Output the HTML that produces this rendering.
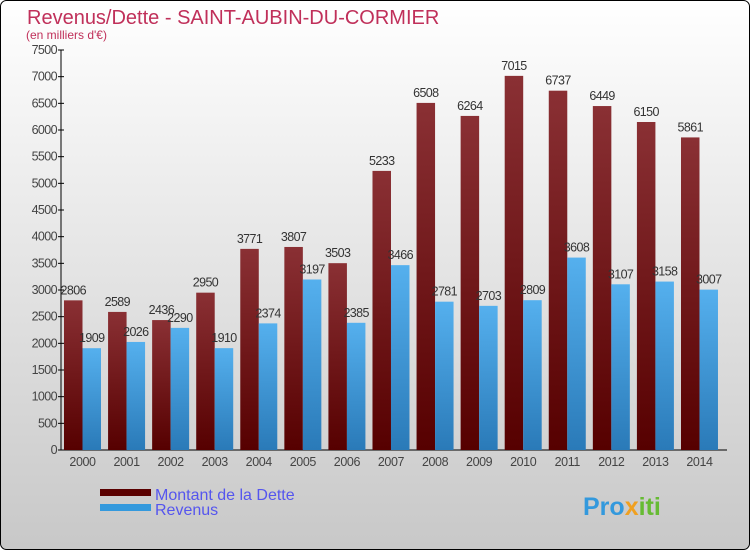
<!DOCTYPE html>
<html><head><meta charset="utf-8"><style>
html,body{margin:0;padding:0;}
body{width:750px;height:550px;overflow:hidden;font-family:"Liberation Sans","DejaVu Sans",sans-serif;}
</style></head><body>
<svg id="chart" width="750" height="550" xmlns="http://www.w3.org/2000/svg">
<defs>
<linearGradient id="bg" x1="0" y1="0" x2="0" y2="1"><stop offset="0" stop-color="#ffffff"/><stop offset="1" stop-color="#c8c8c8"/></linearGradient>
<linearGradient id="gd" x1="0" y1="0" x2="0" y2="1"><stop offset="0" stop-color="#8a3034"/><stop offset="1" stop-color="#560000"/></linearGradient>
<linearGradient id="gr" x1="0" y1="0" x2="0" y2="1"><stop offset="0" stop-color="#55b0ee"/><stop offset="1" stop-color="#2a7ab8"/></linearGradient>
</defs>
<rect x="0.5" y="0.5" width="749" height="549" rx="6" fill="url(#bg)" stroke="#000"/>
<text x="27" y="24" font-size="20" fill="#c0305a">Revenus/Dette - SAINT-AUBIN-DU-CORMIER</text>
<text x="26" y="39" font-size="12" fill="#c0305a">(en milliers d'€)</text>
<g id="axes"></g>
<g id="bars"></g>
<g>
<rect x="100" y="489" width="51" height="7" fill="#5a0000"/>
<text x="155" y="500" font-size="16" fill="#5555ee">Montant de la Dette</text>
<rect x="100" y="504" width="51" height="7" fill="#3399dd"/>
<text x="155" y="515" font-size="16" fill="#5555ee">Revenus</text>
</g>
<text x="583" y="515" font-size="25" font-weight="bold" fill="#3399dd">Pro<tspan fill="#f0a020">x</tspan><tspan fill="#66bb33">iti</tspan></text>
</svg>
<script>
const years=["2000","2001","2002","2003","2004","2005","2006","2007","2008","2009","2010","2011","2012","2013","2014"];
const dette=[2806,2589,2436,2950,3771,3807,3503,5233,6508,6264,7015,6737,6449,6150,5861];
const revenus=[1909,2026,2290,1910,2374,3197,2385,3466,2781,2703,2809,3608,3107,3158,3007];
const yTicks=[0,500,1000,1500,2000,2500,3000,3500,4000,4500,5000,5500,6000,6500,7000,7500];
const NS="http://www.w3.org/2000/svg";
const y0=450,yTop=50,yMax=7500,ax=61,step=44.07,bw=18.5;
const y=v=>y0-v/yMax*(y0-yTop);
const gx=i=>ax+3+i*step;
function mk(t,a,p){const e=document.createElementNS(NS,t);for(const k in a)e.setAttribute(k,a[k]);p.appendChild(e);return e;}
const axes=document.getElementById('axes'),bars=document.getElementById('bars');
const yl=mk('line',{x1:ax,x2:ax,y1:yTop,y2:y0,stroke:'#000'},axes);


const xl=mk('line',{x1:ax,x2:727,y1:y0,y2:y0,stroke:'#000'},axes);


yTicks.forEach(v=>{
 mk('line',{x1:ax-3,x2:ax+3,y1:y(v),y2:y(v),stroke:'#000'},axes);
 const t=mk('text',{x:ax-4,y:y(v)+4,'font-size':12.5,'text-anchor':'end',fill:'#444','letter-spacing':'-0.6'},axes);
 t.textContent=v;
 
 
});
years.forEach((yr,i)=>{
 const x=gx(i);
 const t=mk('text',{x:x+bw,y:y0+16,'font-size':12.5,'text-anchor':'middle',fill:'#444','letter-spacing':'-0.4'},axes);
 t.textContent=yr;
 
 
 const b1=mk('rect',{x:x,y:y(dette[i]),width:bw,height:y0-y(dette[i]),fill:'url(#gd)'},bars);
 
 
 const b2=mk('rect',{x:x+bw,y:y(revenus[i]),width:bw,height:y0-y(revenus[i]),fill:'url(#gr)'},bars);
 
 
 const l1=mk('text',{x:x+bw/2,y:y(dette[i])-6,'font-size':12.5,'text-anchor':'middle',fill:'#333','letter-spacing':'-0.6'},bars);
 l1.textContent=dette[i];
 
 
 const l2=mk('text',{x:x+bw*1.5,y:y(revenus[i])-6,'font-size':12.5,'text-anchor':'middle',fill:'#333','letter-spacing':'-0.6'},bars);
 l2.textContent=revenus[i];
 
 
});
</script>
</body></html>
